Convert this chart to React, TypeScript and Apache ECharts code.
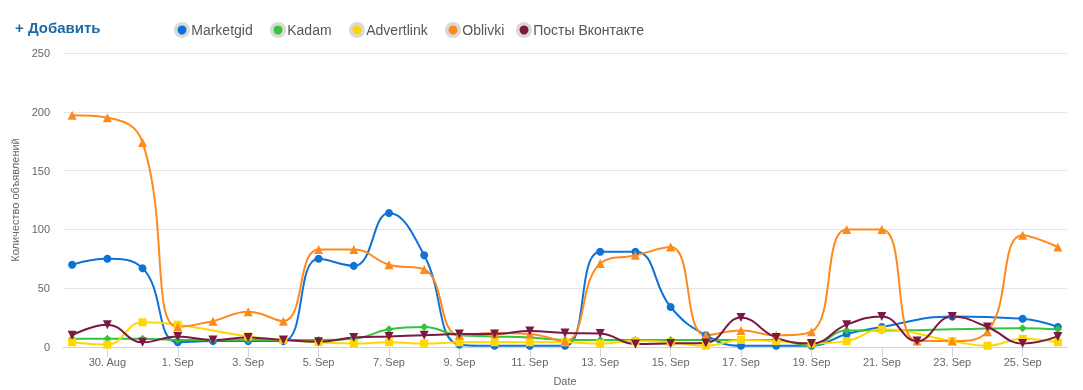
import { useEffect, useRef } from "react";
import * as echarts from "echarts";

const dates = [
  "29. Aug", "30. Aug", "31. Aug",
  "1. Sep", "2. Sep", "3. Sep", "4. Sep", "5. Sep", "6. Sep", "7. Sep", "8. Sep", "9. Sep", "10. Sep",
  "11. Sep", "12. Sep", "13. Sep", "14. Sep", "15. Sep", "16. Sep", "17. Sep", "18. Sep", "19. Sep",
  "20. Sep", "21. Sep", "22. Sep", "23. Sep", "24. Sep", "25. Sep", "26. Sep",
];
const tickIndices = [1, 3, 5, 7, 9, 11, 13, 15, 17, 19, 21, 23, 25, 27];
const yTicks = [0, 50, 100, 150, 200, 250];

const marketgid = [70, 75, 67, 4, 5, 5, 5, 75, 69, 114, 78, 2, 1, 1, 1, 81, 81, 34, 10, 1, 1, 1, 11, 17, null, 26, null, 24, 17];
const kadam = [7, 7, 7, 6, 6, 6, 6, 6, 7, 15, 17, 10, 9, 8, 6, 6, 6, 6, 6, 6, 6, 1, 14, 14, null, null, null, 16, 15];
const advertlink = [4, 2, 21, 19, null, 9, 6, 4, 3, 4, 3, 4, 4, 4, 4, 3, 5, 4, 1, 6, 5, 3, 5, 15, null, 5, 1, 7, 4];
const oblivki = [197, 195, 174, 17, 22, 30, 22, 83, 83, 70, 66, 10, 12, 11, 5, 71, 78, 85, 10, 14, 10, 13, 100, 100, 5, 5, 13, 95, 85];
const posts = [10, 19, 4, 9, 6, 8, 6, 4.5, 8, 9, 10, 11, 11, 13.5, 12, 11.5, 2.5, 3, 3.5, 25, 8, 3, 19, 26, 5, 26, 17, 3, 9];

const seriesDefs = [
  { name: "Marketgid", data: marketgid, color: "#0f72d6", symbol: "circle", size: 8, rotate: 0, legendX: 180 },
  { name: "Kadam", data: kadam, color: "#35c43a", symbol: "diamond", size: 8, rotate: 0, legendX: 276 },
  { name: "Advertlink", data: advertlink, color: "#ffd700", symbol: "rect", size: 8, rotate: 0, legendX: 355 },
  { name: "Oblivki", data: oblivki, color: "#ff8a1c", symbol: "triangle", size: 9, rotate: 0, legendX: 451 },
  { name: "Посты Вконтакте", data: posts, color: "#7c1746", symbol: "triangle", size: 9, rotate: 180, legendX: 522 },
];

const FONT = "'Liberation Sans', Arial, sans-serif";

export default function App() {
  const ref = useRef<HTMLDivElement>(null);
  useEffect(() => {
    const chart = echarts.init(ref.current!, null, { renderer: "svg" });
    chart.setOption({
      animation: false,
      textStyle: { fontFamily: FONT },
      grid: { left: 63, right: 16, top: 53, bottom: 43, outerBoundsMode: "none", containLabel: false },
      legend: seriesDefs.map((s) => ({
        data: [s.name],
        left: s.legendX - 6,
        top: 22,
        padding: 0,
        icon: "circle",
        itemWidth: 12.5,
        itemHeight: 12.5,
        itemStyle: { color: s.color, borderColor: "#dadada", borderWidth: 3.5 },
        textStyle: { fontSize: 14, color: "#555", fontFamily: FONT, padding: [0, 0, 0, -2] },
        selectedMode: false,
      })),
      graphic: [
        {
          type: "text",
          left: 15,
          top: 20,
          style: { text: "+ Добавить", fill: "#1d6aa5", font: `bold 15px ${FONT}` },
        },
      ],
      xAxis: {
        type: "value",
        min: -0.26,
        max: 28.26,
        name: "Date",
        nameLocation: "middle",
        nameGap: 28,
        nameTextStyle: { color: "#666", fontSize: 11 },
        axisLine: { show: true, lineStyle: { color: "#ccd6eb" } },
        axisTick: { show: true, length: 10, lineStyle: { color: "#ccd6eb" }, customValues: tickIndices },
        axisLabel: {
          color: "#666",
          fontSize: 11,
          margin: 9,
          customValues: tickIndices,
          formatter: (v: number) => dates[Math.round(v)] ?? "",
        },
        splitLine: { show: false },
      },
      yAxis: {
        type: "value",
        min: 0,
        max: 250,
        interval: 50,
        name: "Количество объявлений",
        nameLocation: "middle",
        nameGap: 40,
        nameRotate: 90,
        nameTextStyle: { color: "#666", fontSize: 11 },
        axisLine: { show: false },
        axisTick: { show: false },
        axisLabel: { color: "#666", fontSize: 11, margin: 13, customValues: yTicks },
        splitLine: { lineStyle: { color: "#e6e6e6" } },
      },
      series: seriesDefs.map((s) => ({
        type: "line",
        name: s.name,
        data: s.data.map((v, i) => [i, v]),
        smooth: 0.45,
        connectNulls: true,
        showAllSymbol: true,
        symbol: s.symbol,
        symbolSize: s.size,
        symbolRotate: s.rotate,
        color: s.color,
        lineStyle: { width: 2, color: s.color },
        itemStyle: { color: s.color },
      })),
    });
    return () => chart.dispose();
  }, []);
  return <div ref={ref} style={{ position: "fixed", left: 0, top: 0, width: 1083, height: 390 }} />;
}
